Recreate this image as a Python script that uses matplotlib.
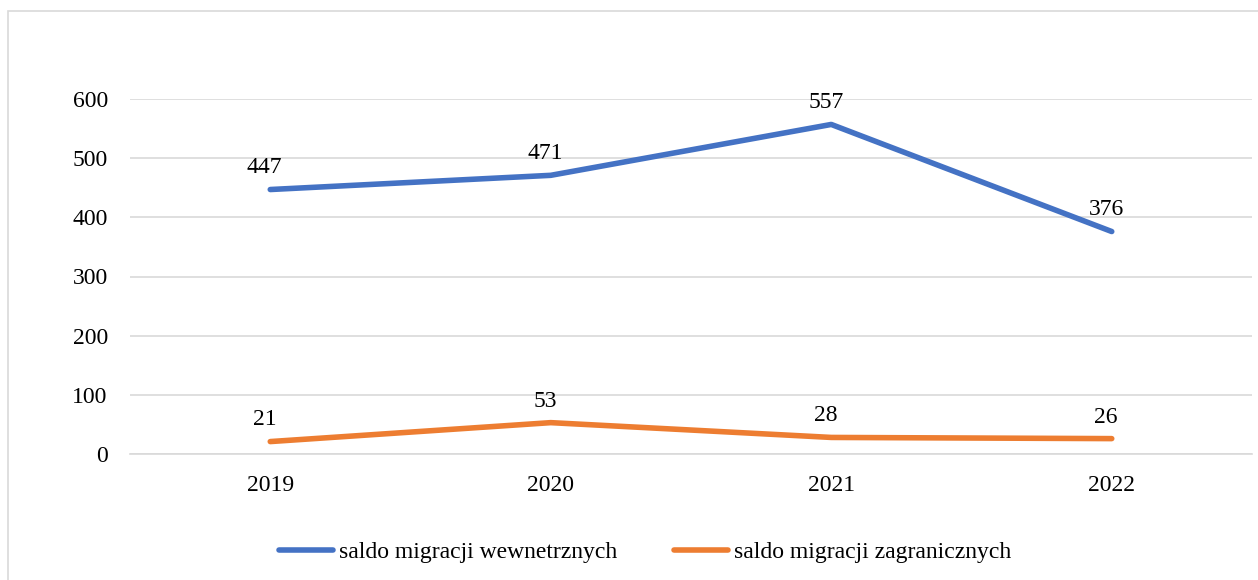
import matplotlib.pyplot as plt
from matplotlib.patches import Rectangle

# dane: saldo migracji
lata = ['2019', '2020', '2021', '2022']
wewnetrzne = [447, 471, 557, 376]
zagraniczne = [21, 53, 28, 26]
nazwy = ['saldo migracji wewnetrznych', 'saldo migracji zagranicznych']
kolory = ['#4472C4', '#ED7D31']

plt.rcParams['font.family'] = ['Liberation Serif', 'DejaVu Serif']

fig = plt.figure(figsize=(12.58, 5.8), dpi=100)
ax = fig.add_axes([130 / 1258, 126 / 580, 1122 / 1258, 355 / 580])

# ramka wykresu (przycieta z prawej i z dolu)
fig.patches.append(Rectangle((8 / 1258, -0.1), 1.2, 1 - 11 / 580 + 0.1,
                             transform=fig.transFigure, fill=False,
                             edgecolor='#d9d9d9', linewidth=1.2))

x = range(len(lata))
for serie, nazwa, kolor in zip([wewnetrzne, zagraniczne], nazwy, kolory):
    ax.plot(x, serie, color=kolor, linewidth=4, solid_capstyle='round',
            label=nazwa)
    for xi, v in zip(x, serie):
        ax.annotate(str(v), (xi, v), xytext=(-4, 8), textcoords='offset points',
                    ha='center', va='bottom', fontsize=17)

ax.set_xlim(-0.5, len(lata) - 0.5)
ax.set_ylim(0, 600)
ax.set_yticks(range(0, 601, 100))
ax.set_xticks(list(x))
ax.set_xticklabels(lata)
ax.tick_params(axis='both', length=0, labelsize=17)
ax.tick_params(axis='y', pad=16)
ax.tick_params(axis='x', pad=15)
ax.yaxis.grid(True, color='#d9d9d9', linewidth=1.2)
ax.set_axisbelow(True)
for s in ['top', 'right', 'left']:
    ax.spines[s].set_visible(False)
ax.spines['bottom'].set_color('#d9d9d9')
ax.spines['bottom'].set_linewidth(1.2)

fig.legend(loc='center', bbox_to_anchor=(0.513, 28 / 580), ncol=2, frameon=False,
           fontsize=17, handlelength=2.3, handletextpad=0.25, columnspacing=2.4)

fig.savefig('out.png', dpi=100)
